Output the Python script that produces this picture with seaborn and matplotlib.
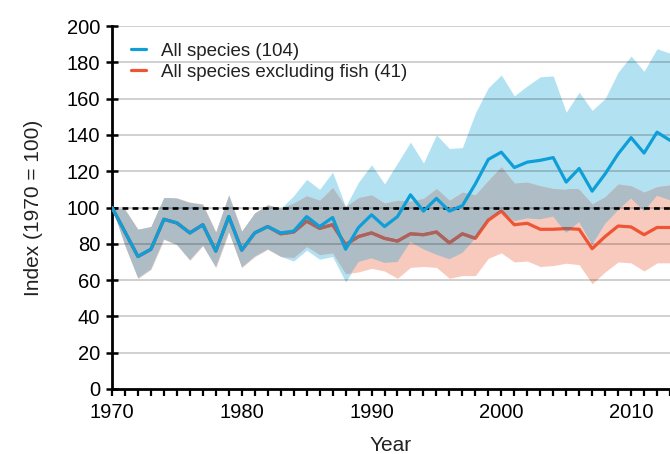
import numpy as np
import pandas as pd
import matplotlib
matplotlib.use("Agg")
import matplotlib.pyplot as plt
from matplotlib.lines import Line2D
import seaborn as sns

years = list(range(1970, 2014))

all_species = [100, 86.5, 73, 77, 93.5, 91.5, 86, 90.5, 76, 95,
               76.5, 86, 89.5, 86, 87, 95, 89.5, 94.5, 77, 89,
               96, 89.5, 95, 107, 98, 105, 98, 101, 113, 126.5,
               130.5, 122, 125, 126, 127.5, 114, 121.5, 109, 118.5, 129.5,
               138.5, 130, 141.5, 137]
all_upper = [100, 99, 88, 89.5, 105.5, 105, 102.5, 101.5, 86.5, 107,
             87, 97, 101.5, 99.5, 106.5, 115.5, 110, 119.5, 100.5, 114,
             123.5, 113, 124.5, 136, 124.5, 140, 132.5, 133, 152, 166,
             173, 161.5, 167, 172, 172.5, 152.5, 163.5, 153.5, 160, 174.5,
             183.5, 175, 187.5, 185]
all_lower = [100, 79, 61, 66, 82.5, 79.5, 71, 79, 67, 86.5,
             67, 73, 77, 73, 70.5, 76.5, 71.5, 73, 59, 70,
             72, 69.5, 70, 81, 77, 74, 71.5, 75, 83, 94,
             98.5, 92.5, 94, 93.5, 95, 86, 92, 79.5, 91, 98.5,
             105, 98, 106.5, 104]

no_fish = [100, 86.5, 73, 77, 93.5, 91.5, 86, 90.5, 76, 95,
           76.5, 86, 89.5, 85.5, 86.5, 92.5, 88.5, 90.5, 79.5, 84,
           86, 83, 81.5, 85.5, 85, 86.5, 80.5, 85.5, 83, 93,
           98, 90.5, 91.3, 88, 88, 88.4, 88, 77.3, 84, 89.8,
           89.3, 85, 89, 89]
no_fish_upper = [100, 99, 88, 89.5, 105.5, 105.3, 103, 102, 86.5, 107,
                 87, 97, 101.5, 99.5, 102.5, 106.5, 104, 111, 100.5, 105.5,
                 107, 102.5, 104, 103.5, 105, 110.5, 104, 108.5, 107, 115,
                 122.5, 113.5, 114, 112, 110.5, 110, 110, 102, 106, 113,
                 112, 108.5, 111.5, 112.5]
no_fish_lower = [100, 79, 61, 66, 82.5, 79.5, 71, 79, 67, 86.5,
                 67, 73, 77, 73, 72.5, 78.5, 74, 75, 63.5, 64.5,
                 66.5, 65, 61, 67, 67.5, 67, 61, 62.5, 62.5, 72,
                 75, 70, 70.5, 67.5, 68, 69.3, 68.5, 58, 64.5, 70,
                 69.5, 65, 69.5, 69.5]

labels = ["All species (104)", "All species excluding fish (41)"]

BLUE = "#0f9fd8"
BLUE_BAND = "#b2e2f2"
RED = "#ee5535"
RED_BAND = "#f8c9bd"
GREY = "#adbcc5"
BROWN = "#a8645e"

df = pd.DataFrame({"Year": years * 2,
                   "Index": all_species + no_fish,
                   "Series": [labels[0]] * len(years) + [labels[1]] * len(years)})

sns.set_theme(style="white")
plt.rcParams["font.family"] = ["Liberation Sans", "DejaVu Sans"]

fig = plt.figure(figsize=(6.7, 4.54), dpi=100)
ax = fig.add_axes([112 / 670, 1 - 389 / 454, 558 / 670, 363 / 454])

yrs = np.array(years, dtype=float)
blue_band = ax.fill_between(yrs, all_lower, all_upper, color=BLUE_BAND, lw=0, zorder=1)
ax.fill_between(yrs, no_fish_lower, no_fish_upper, color=RED_BAND, lw=0, zorder=1.1)
clip_path = blue_band.get_paths()[0]
overlap = ax.fill_between(yrs, no_fish_lower, no_fish_upper, color=GREY, lw=0, zorder=1.2)
overlap.set_clip_path(clip_path, ax.transData)

for v in range(20, 201, 20):
    ax.axhline(v, color="black", alpha=0.2, lw=1.3, zorder=1.5)
ax.axhline(100, color="black", lw=1.9, dashes=(2.2, 1.6), zorder=2)

sns.lineplot(data=df[df["Series"] == labels[1]], x="Year", y="Index", color=RED,
             lw=2.3, ax=ax, legend=False, zorder=3)
brown = ax.plot(yrs, no_fish, color=BROWN, lw=2.3, zorder=3.1)[0]
brown.set_clip_path(clip_path, ax.transData)
sns.lineplot(data=df[df["Series"] == labels[0]], x="Year", y="Index", color=BLUE,
             lw=2.3, ax=ax, legend=False, zorder=4)

ax.set_xlim(1970, 2013)
ax.set_ylim(0, 200)
ax.set_yticks(range(0, 201, 20))
ax.set_xticks(range(1970, 2011, 10))
ax.set_xticks(range(1970, 2014), minor=True)
ax.tick_params(axis="y", direction="inout", length=9, width=1.8, labelsize=14.5,
               pad=4, colors="black", left=True)
ax.tick_params(axis="x", which="both", direction="out", length=5, width=1.6,
               labelsize=14.5, pad=5, colors="black", bottom=True)
ax.set_xlabel("Year", fontsize=15, labelpad=10, color="#222222")
ax.set_ylabel("Index (1970 = 100)", fontsize=15, labelpad=17, color="#222222")
for s in ["top", "right"]:
    ax.spines[s].set_visible(False)
for s in ["left", "bottom"]:
    ax.spines[s].set_color("black")
    ax.spines[s].set_linewidth(2)
ax.grid(False)

handles = [Line2D([], [], color=BLUE, lw=2.3), Line2D([], [], color=RED, lw=2.3)]
ax.legend(handles, labels, loc="upper left", bbox_to_anchor=(0.02, 0.975),
          frameon=False, fontsize=13.5, handlelength=0.8, handletextpad=0.8,
          labelspacing=0.2, borderaxespad=0, labelcolor="#222222")

fig.savefig("out.png", dpi=100)
